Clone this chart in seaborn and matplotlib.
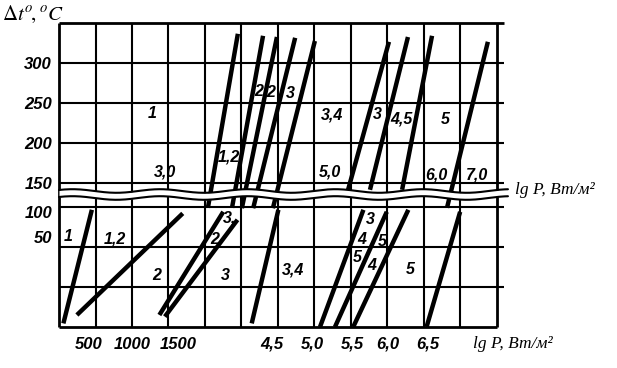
import numpy as np
import pandas as pd
import matplotlib
matplotlib.use("Agg")
import matplotlib.pyplot as plt
import seaborn as sns

# ---------------- data (grid-column units 0..12, grid-row units 0..7.6) -------------
line_names = ["T1", "T2", "T3", "T4", "T5", "T6", "T7", "T8", "T9",
              "B1", "B2", "B3a", "B3b", "B4", "B5", "B6", "B7", "B8"]
x_start = [4.90, 5.59, 5.97, 6.47, 7.01, 9.04, 9.56, 10.22, 11.75,
           0.12, 0.49, 2.75, 2.90, 5.28, 7.15, 7.56, 8.06, 10.07]
y_start = [7.33, 7.28, 7.25, 7.23, 7.15, 7.13, 7.25, 7.28, 7.13,
           0.09, 0.30, 0.30, 0.26, 0.09, 0.00, 0.00, 0.00, 0.00]
x_end = [4.08, 4.74, 5.01, 5.32, 5.86, 7.92, 8.52, 9.40, 10.63,
         0.90, 3.39, 4.50, 4.89, 6.01, 8.34, 8.98, 9.57, 10.99]
y_end = [2.98, 2.98, 2.97, 2.97, 2.97, 3.43, 3.43, 3.43, 2.98,
         2.93, 2.84, 2.88, 2.68, 2.93, 2.93, 2.88, 2.93, 2.88]

region_text = ["1", "3,0", "1,2", "2", "2", "3", "3,4", "5,0", "3", "4,5", "5", "6,0", "7,0",
               "1", "1,2", "2", "3,", "2", "3", "3,4", "3", "4", "5", "5", "4", "5"]
region_x = [2.54, 2.90, 4.64, 5.46, 5.81, 6.33, 7.47, 7.43, 8.72, 9.39, 10.58, 10.35, 11.44,
            0.26, 1.53, 2.69, 4.66, 4.27, 4.55, 6.42, 8.52, 8.30, 8.85, 8.16, 8.58, 9.62]
region_y = [5.34, 3.88, 4.26, 5.88, 5.87, 5.84, 5.30, 3.88, 5.32, 5.20, 5.18, 3.80, 3.80,
            2.26, 2.19, 1.30, 2.72, 2.18, 1.30, 1.43, 2.68, 2.18, 2.13, 1.75, 1.53, 1.45]

ytick_labels = ["300", "250", "200", "150", "100", "50"]
ytick_pos = [6.6, 5.6, 4.6, 3.6, 2.875, 2.25]
xtick_labels = ["500", "1000", "1500", "4,5", "5,0", "5,5", "6,0", "6,5"]
xtick_pos = [0.82, 2.00, 3.26, 5.84, 6.93, 8.03, 9.01, 10.11]

grid_cols = list(range(13))
grid_rows = [1, 2, 3, 3.6, 4.6, 5.6, 6.6, 7.6]

# ---------------- figure ---------------------------------------------------------
sns.set_theme(style="white")
plt.rcParams['font.family'] = ['Liberation Sans', 'DejaVu Sans']
plt.rcParams['mathtext.fontset'] = 'stix'

W, H = 617, 368
fig = plt.figure(figsize=(W / 100, H / 100), dpi=100)
col_px, row_px = 36.5, 40.0
xmax = 12.35
ax = fig.add_axes([59 / W, 41 / H, xmax * col_px / W, 7.6 * row_px / H])
ax.set_xlim(0, xmax)
ax.set_ylim(0, 7.6)
for s in ax.spines.values():
    s.set_visible(False)
ax.set_facecolor("white")

# grid
ax.vlines(grid_cols[1:-1], 0, 7.6, color="black", lw=1.5, clip_on=False, zorder=1)
ax.vlines([grid_cols[0], grid_cols[-1]], 0, 7.6, color="black", lw=2.0, clip_on=False, zorder=1)
ax.hlines(grid_rows[:-1], 0, 12.2, color="black", lw=1.5, clip_on=False, zorder=1)
ax.hlines([grid_rows[-1]], 0, 12.2, color="black", lw=2.0, clip_on=False, zorder=1)
ax.hlines([0], 0, 12, color="black", lw=2.0, clip_on=False, zorder=1)

# thick lines
df = pd.DataFrame({
    "line": np.repeat(line_names, 2),
    "x": np.ravel(np.column_stack([x_start, x_end])),
    "y": np.ravel(np.column_stack([y_start, y_end])),
})
sns.lineplot(data=df, x="x", y="y", units="line", estimator=None, sort=False,
             color="black", linewidth=3.2, ax=ax, legend=False, zorder=3,
             solid_capstyle="butt")
ax.set_xlabel("")
ax.set_ylabel("")

# axis break (wavy band)
xs = np.linspace(0, 12.3, 400)
wave = 0.045 * np.sin(2 * np.pi * xs / 2.4 + 0.6)
ax.fill_between(xs, 3.225 + wave, 3.40 + wave, color="white", zorder=5, lw=0, clip_on=False)
ax.plot(xs, 3.40 + wave, color="black", lw=1.5, zorder=6, clip_on=False)
ax.plot(xs, 3.225 + wave, color="black", lw=1.5, zorder=6, clip_on=False)

# region labels
lab_font = dict(fontsize=11.5, fontweight="bold", fontstyle="italic", color="black",
                family=["Liberation Sans", "DejaVu Sans"])
for t, x, y in zip(region_text, region_x, region_y):
    ax.text(x, y, t, ha="center", va="center", zorder=4, **lab_font)

# ticks
ax.set_xticks(xtick_pos)
ax.set_xticklabels(xtick_labels)
ax.set_yticks(ytick_pos)
ax.set_yticklabels(ytick_labels)
ax.tick_params(axis="both", length=0)
ax.tick_params(axis="x", pad=7)
ax.tick_params(axis="y", pad=5)
for lab in ax.get_xticklabels() + ax.get_yticklabels():
    lab.set_fontsize(12)
    lab.set_fontweight("bold")
    lab.set_fontstyle("italic")
    lab.set_color("black")
    lab.set_family(["Liberation Sans", "DejaVu Sans"])

# axis titles
title_font = dict(fontsize=12.5, fontstyle="italic", color="black",
                  family=["Liberation Serif", "DejaVu Serif"])
ax.text(12.49, 3.42, "lg P, Вт/м²", ha="left", va="center", **title_font)
ax.text(11.34, -0.43, "lg P, Вт/м²", ha="left", va="center", **title_font)
fig.text(2 / W, 1 - 14 / H, r"$\Delta t^{o}\!,^{o}C$", ha="left", va="center",
         fontsize=15, color="black")

fig.savefig("out.png", dpi=100, facecolor="white")
